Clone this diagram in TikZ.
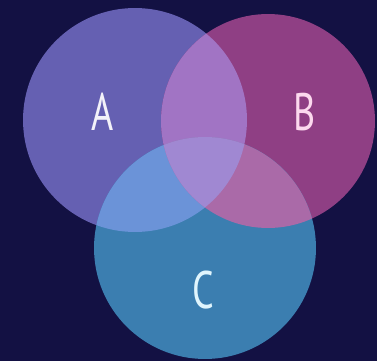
\documentclass[tikz,border=0pt]{standalone}
\usepackage{fontspec}
\setmainfont{PT Sans}
\usepackage{graphicx,xcolor}

\definecolor{bgnavy}{HTML}{131143}
\definecolor{setA}{HTML}{6560B2}
\definecolor{setB}{HTML}{8F3F84}
\definecolor{setC}{HTML}{3B7EB0}
\definecolor{setAB}{HTML}{A174C4}
\definecolor{setAC}{HTML}{6B93D8}
\definecolor{setBC}{HTML}{AA6AA8}
\definecolor{setABC}{HTML}{A088D2}

\newcommand{\setletter}[1]{\scalebox{0.72}[1]{#1}}

\begin{document}
\begin{tikzpicture}[x=0.02cm,y=-0.02cm,
  every node/.style={font=\fontsize{30}{30}\selectfont,inner sep=0pt}]
\fill[bgnavy] (0,0) rectangle (377,361);
% the three sets
\fill[setA] (135,120) circle (2.24cm);
\fill[setB] (268,121) circle (2.14cm);
\fill[setC] (205,248) circle (2.22cm);
% pairwise overlaps
\begin{scope}
\clip (135,120) circle (2.24cm);
\fill[setAB] (268,121) circle (2.14cm);
\fill[setAC] (205,248) circle (2.22cm);
\end{scope}
\begin{scope}
\clip (268,121) circle (2.14cm);
\fill[setBC] (205,248) circle (2.22cm);
\end{scope}
% middle
\begin{scope}
\clip (135,120) circle (2.24cm);
\clip (268,121) circle (2.14cm);
\fill[setABC] (205,248) circle (2.22cm);
\end{scope}
\node[text=white!92!setA] (labA) at (103,112) {\setletter{A}};
\node[text=white!85!magenta] (labB) at (305,112) {\setletter{B}};
\node[text=white!88!cyan] (labC) at (203,290) {\setletter{C}};
\end{tikzpicture}
\end{document}
